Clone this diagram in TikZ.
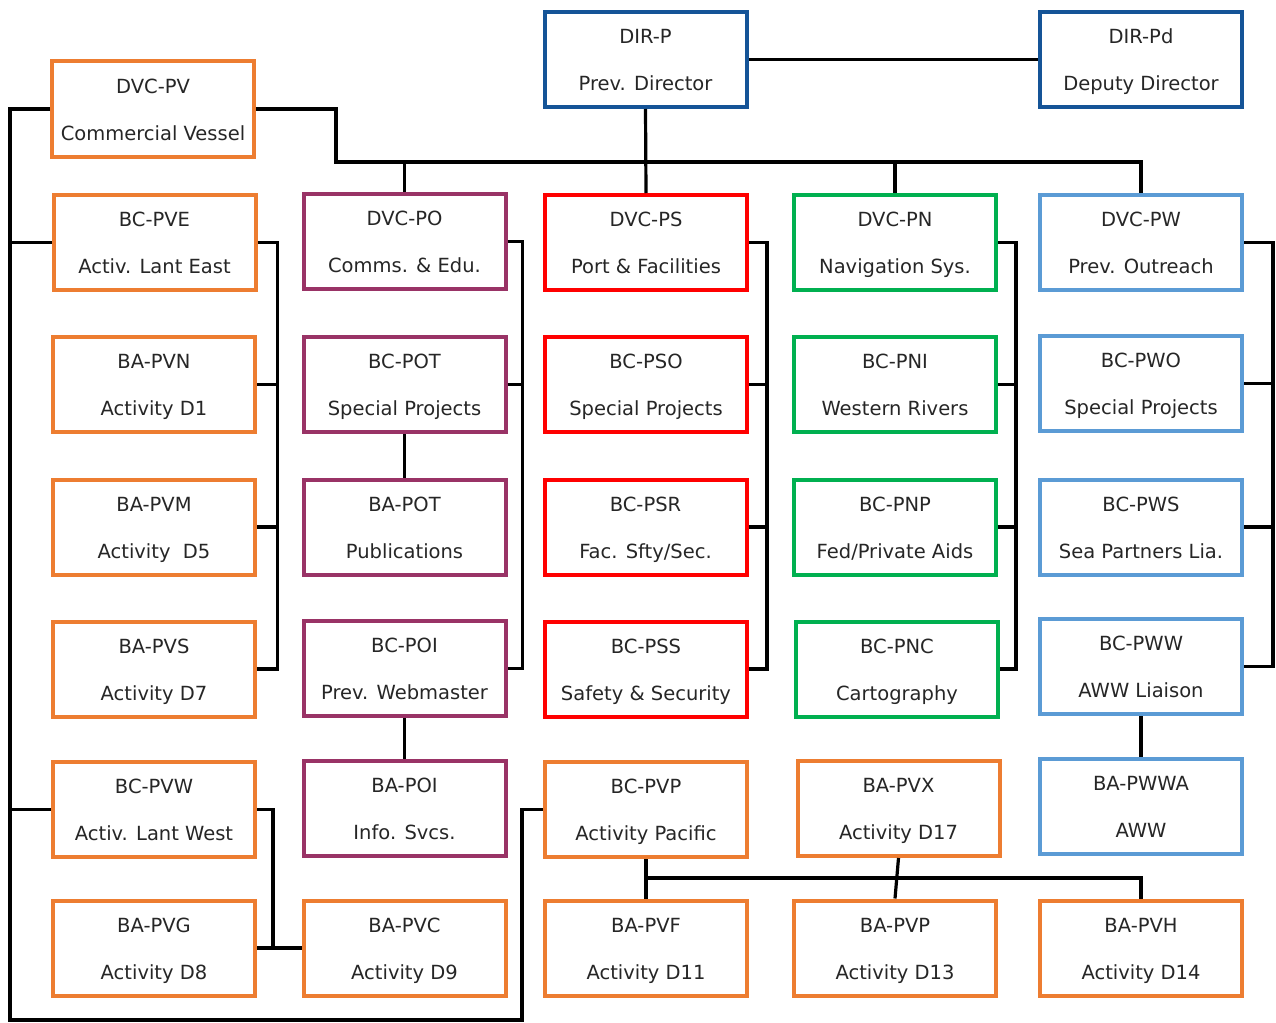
\documentclass[tikz,border=0pt]{standalone}
\usepackage{fontspec}
\setmainfont{DejaVu Sans}
\usepackage{tikz}

\definecolor{dirblue}{HTML}{155497}
\definecolor{pvorange}{HTML}{ED7D31}
\definecolor{popurple}{HTML}{993366}
\definecolor{psred}{HTML}{FF0000}
\definecolor{pngreen}{HTML}{00B050}
\definecolor{pwblue}{HTML}{5B9BD5}
\definecolor{txtgray}{HTML}{262626}

\newcommand{\unitlabel}[2]{\rule{0pt}{20pt}#1\\#2\rule[-5pt]{0pt}{5pt}}

\tikzset{
	unitbox/.style={draw=#1, line width=4pt, fill=white, minimum width=202pt, minimum height=95pt,
		align=center, text=txtgray, font=\fontsize{19.5}{47}\selectfont, inner sep=0pt},
	link/.style={line width=3.2pt, black}
}

\begin{document}
\begin{tikzpicture}[x=1pt, y=-1pt]
	\useasboundingbox (0,0) rectangle (1276,1022);

	% directors
	\node[unitbox=dirblue] (dirp) at (645.5,59.5) {\unitlabel{DIR-P}{Prev. Director}};
	\node[unitbox=dirblue] (dirpd) at (1141,59.5) {\unitlabel{DIR-Pd}{Deputy Director}};
	\node[unitbox=pvorange] (dvcpv) at (153,109) {\unitlabel{DVC-PV}{Commercial Vessel}};

	% row 1
	\node[unitbox=pvorange] (bcpve) at (154.5,242.5) {\unitlabel{BC-PVE}{Activ. Lant East}};
	\node[unitbox=popurple] (dvcpo) at (404.5,241.5) {\unitlabel{DVC-PO}{Comms. \& Edu.}};
	\node[unitbox=psred] (dvcps) at (646,242.5) {\unitlabel{DVC-PS}{Port \& Facilities}};
	\node[unitbox=pngreen] (dvcpn) at (895,242.5) {\unitlabel{DVC-PN}{Navigation Sys.}};
	\node[unitbox=pwblue] (dvcpw) at (1141,242.5) {\unitlabel{DVC-PW}{Prev. Outreach}};

	% row 2
	\node[unitbox=pvorange] (bapvn) at (154,384.5) {\unitlabel{BA-PVN}{Activity D1}};
	\node[unitbox=popurple] (bcpot) at (404.5,384.5) {\unitlabel{BC-POT}{Special Projects}};
	\node[unitbox=psred] (bcpso) at (646,384.5) {\unitlabel{BC-PSO}{Special Projects}};
	\node[unitbox=pngreen] (bcpni) at (895,384.5) {\unitlabel{BC-PNI}{Western Rivers}};
	\node[unitbox=pwblue] (bcpwo) at (1141,383.5) {\unitlabel{BC-PWO}{Special Projects}};

	% row 3
	\node[unitbox=pvorange] (bapvm) at (154,527) {\unitlabel{BA-PVM}{Activity\ \ D5}};
	\node[unitbox=popurple] (bapot) at (404.5,527) {\unitlabel{BA-POT}{Publications}};
	\node[unitbox=psred] (bcpsr) at (645.5,527) {\unitlabel{BC-PSR}{Fac. Sfty/Sec.}};
	\node[unitbox=pngreen] (bcpnp) at (895,527) {\unitlabel{BC-PNP}{Fed/Private Aids}};
	\node[unitbox=pwblue] (bcpws) at (1141,527) {\unitlabel{BC-PWS}{Sea Partners Lia.}};

	% row 4
	\node[unitbox=pvorange] (bapvs) at (154,669) {\unitlabel{BA-PVS}{Activity D7}};
	\node[unitbox=popurple] (bcpoi) at (404.5,668.5) {\unitlabel{BC-POI}{Prev. Webmaster}};
	\node[unitbox=psred] (bcpss) at (646,669) {\unitlabel{BC-PSS}{Safety \& Security}};
	\node[unitbox=pngreen] (bcpnc) at (897,669) {\unitlabel{BC-PNC}{Cartography}};
	\node[unitbox=pwblue] (bcpww) at (1141,666.5) {\unitlabel{BC-PWW}{AWW Liaison}};

	% row 5
	\node[unitbox=pvorange] (bcpvw) at (154,809.5) {\unitlabel{BC-PVW}{Activ. Lant West}};
	\node[unitbox=popurple] (bapoi) at (404.5,808.5) {\unitlabel{BA-POI}{Info. Svcs.}};
	\node[unitbox=pvorange] (bcpvp) at (646,809.5) {\unitlabel{BC-PVP}{Activity Pacific}};
	\node[unitbox=pvorange] (bapvx) at (898.5,808.5) {\unitlabel{BA-PVX}{Activity D17}};
	\node[unitbox=pwblue] (bapwwa) at (1141,806.5) {\unitlabel{BA-PWWA}{AWW}};

	% row 6
	\node[unitbox=pvorange] (bapvg) at (154,948) {\unitlabel{BA-PVG}{Activity D8}};
	\node[unitbox=pvorange] (bapvc) at (404.5,948) {\unitlabel{BA-PVC}{Activity D9}};
	\node[unitbox=pvorange] (bapvf) at (646,948) {\unitlabel{BA-PVF}{Activity D11}};
	\node[unitbox=pvorange] (bapvp) at (895,948) {\unitlabel{BA-PVP}{Activity D13}};
	\node[unitbox=pvorange] (bapvh) at (1141,948) {\unitlabel{BA-PVH}{Activity D14}};

	\coordinate (topbus) at (336,162);
	\coordinate (lbus) at (10,1020);
	\coordinate (pbus) at (522,1020);
	\coordinate (sbus) at (0,878);

	% top links
	\draw[link] (dirp.east) -- (dirpd.west);
	\draw[link] (dirp.south) -- (dvcps.north);
	\draw[link] (dvcpv.east) -| (topbus) -- (topbus -| dvcpw.north) -- (dvcpw.north);
	\draw[link] (topbus -| dvcpo.north) -- (dvcpo.north);
	\draw[link] (topbus -| dvcpn.north) -- (dvcpn.north);

	% left bus
	\draw[link] (dvcpv.west) -| (lbus) -- (pbus) |- (bcpvp.west);
	\draw[link] (lbus |- bcpve.west) -- (bcpve.west);
	\draw[link] (lbus |- bcpvw.west) -- (bcpvw.west);

	% column buses
	\foreach \a/\b/\dx in {bcpve/bapvs/20, dvcpo/bcpoi/15, dvcps/bcpss/18, dvcpn/bcpnc/18, dvcpw/bcpww/29}
		\draw[link] (\a.east) -- ++(\dx,0) |- (\b.east);
	\foreach \b/\dx in {bapvn/20, bapvm/20, bcpot/15, bcpso/18, bcpsr/18, bcpni/18, bcpnp/18, bcpwo/29, bcpws/29}
		\draw[link] (\b.east) -- ++(\dx,0);

	% straight drops
	\draw[link] (bcpot) -- (bapot);
	\draw[link] (bcpoi) -- (bapoi);
	\draw[link] (bcpww) -- (bapwwa);

	% bottom rows
	\draw[link] (bcpvw.east) -- ++(16,0) |- (bapvg.east);
	\draw[link] (bapvg.east) -- (bapvc.west);
	\draw[link] (bcpvp.south) -- (bapvf.north);
	\draw[link] (bapvx.south) -- (bapvp.north);
	\draw[link] (sbus -| bcpvp.south) -| (bapvh.north);
\end{tikzpicture}
\end{document}
